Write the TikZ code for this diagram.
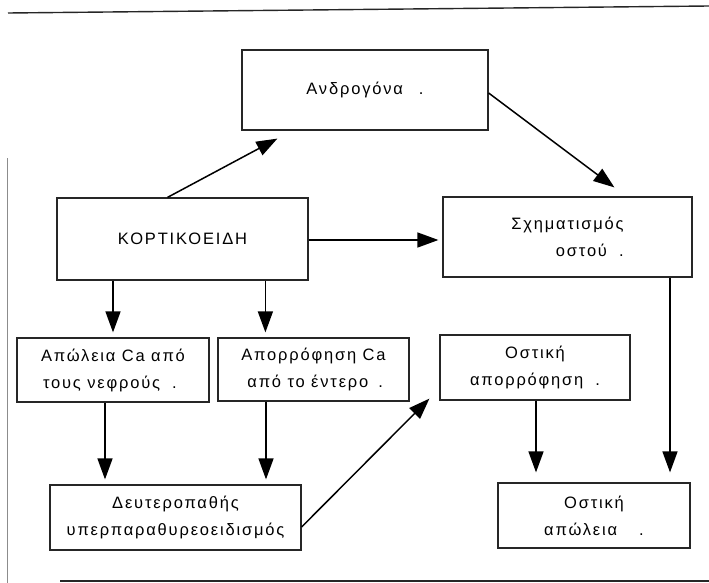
\documentclass[tikz,border=0pt]{standalone}
\usepackage{fontspec}
\setmainfont{Liberation Sans}[LetterSpace=11]
\usetikzlibrary{arrows.meta,calc}
\begin{document}
\begin{tikzpicture}[x=1pt,y=-1pt,
  box/.style={draw=black!85, line width=1.2pt, inner sep=0pt, text=black,
    font=\fontsize{16.5}{27}\selectfont},
  arr/.style={draw=black, line width=1.5pt, -{Triangle[length=21pt,width=15pt]}},
  frame/.style={draw=black!85, line width=1.4pt}]
\useasboundingbox (0,0) rectangle (709,583);
% frame
\coordinate (ftl) at (8,13);
\coordinate (ftr) at (709,6);
\coordinate (flt) at (7,158);
\coordinate (flb) at (7,583);
\coordinate (fbl) at (60,581);
\coordinate (fbr) at (709,581);
\draw[frame] (ftl) -- (ftr);
\draw[frame, draw=black!45, line width=1pt] (flt) -- (flb);
\draw[frame] (fbl) -- (fbr);
% boxes
\node[box, minimum width=246pt, minimum height=80pt] (andro) at (365,90) {Ανδρογόνα\hspace{16pt}.};
\node[box, minimum width=251pt, minimum height=82pt] (kort) at (182.5,239) {ΚΟΡΤΙΚΟΕΙΔΗ};
\node[box, minimum width=249pt, minimum height=80pt, align=right] (sxim) at (567.5,237) {Σχηματισμός\\οστού\hspace{12pt}.};
\node[box, minimum width=192pt, minimum height=64pt, align=left] (apol) at (113,370) {Απώλεια Ca από\\\hspace{2pt}τους νεφρούς\hspace{12pt}.};
\node[box, minimum width=191pt, minimum height=63pt, align=left] (apor) at (313.5,369.5) {Απορρόφηση Ca\\\hspace{6pt}από το έντερο\hspace{10pt}.};
\node[box, minimum width=190pt, minimum height=65pt, align=center] (ostapor) at (535,367.5) {Οστική\\απορρόφηση\hspace{12pt}.};
\node[box, minimum width=251pt, minimum height=65pt, align=center] (deut) at (175.5,517.5) {Δευτεροπαθής\\υπερπαραθυρεοειδισμός};
\node[box, minimum width=192pt, minimum height=65pt, align=center] (ostapol) at (594,515.5) {Οστική\\απώλεια\hspace{22pt}.};
% connectors
\draw[arr] ([xshift=-15pt]kort.north) -- ($(andro.south west)+(36,8)$);
\draw[arr] ([yshift=-3pt]andro.east) -- ($(sxim.north west)+(172,-9)$);
\draw[arr, shorten >=4pt] ([yshift=-1pt]kort.east) -- ([yshift=-1pt]kort.east -| sxim.west);
\draw[arr, shorten >=5pt] (kort.south -| apol.north) -- (apol.north);
\draw[arr, shorten >=5pt] ([xshift=209pt]kort.south west) -- ([xshift=209pt]kort.south west |- apor.north);
\draw[arr, shorten >=5pt] ([xshift=-8pt]apol.south) -- ([xshift=-8pt]apol.south |- deut.north);
\draw[arr, shorten >=5pt] ([xshift=-47.5pt]apor.south) -- ([xshift=-47.5pt]apor.south |- deut.north);
\draw[arr] ([yshift=-9.5pt]deut.east) -- ($(ostapor.south west)+(-10,-2)$);
\draw[arr, shorten >=10pt] ([xshift=1pt]ostapor.south) -- ([xshift=1pt]ostapor.south |- ostapol.north);
\draw[arr, shorten >=10pt] ([xshift=102.5pt]sxim.south) -- ([xshift=102.5pt]sxim.south |- ostapol.north);
\end{tikzpicture}
\end{document}
